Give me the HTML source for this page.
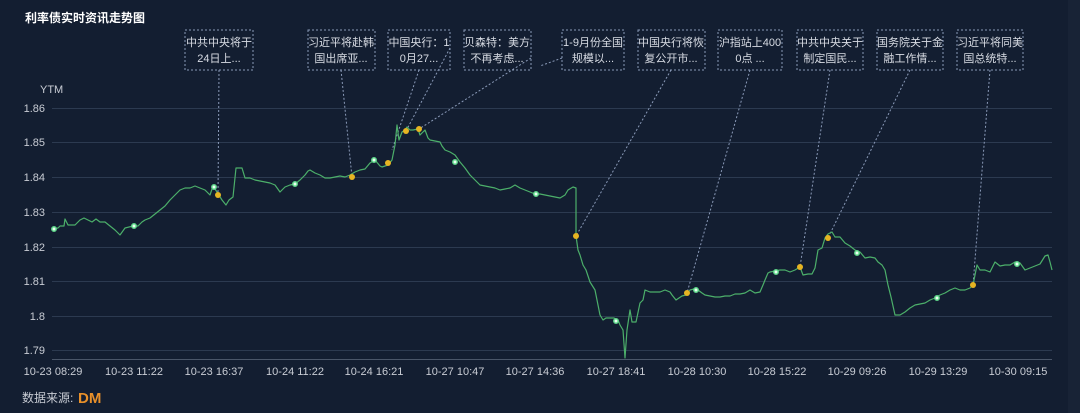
<!DOCTYPE html>
<html><head><meta charset="utf-8"><style>
html,body{margin:0;padding:0;background:#131e31;}
svg{display:block;font-family:"Liberation Sans","Noto Sans CJK SC",sans-serif;}
</style></head><body>
<svg width="1080" height="413" viewBox="0 0 1080 413">
<rect width="1080" height="413" fill="#131e31"/>
<rect x="1068" width="12" height="413" fill="#182336"/>
<text x="25" y="22" fill="#ffffff" font-size="12" font-weight="bold">利率债实时资讯走势图</text>
<text x="40" y="93" fill="#c8ccd4" font-size="11">YTM</text>
<g stroke="#2c3a50" stroke-width="1">
<line x1="52" y1="108.5" x2="1052" y2="108.5"/><line x1="52" y1="142.5" x2="1052" y2="142.5"/>
<line x1="52" y1="177.5" x2="1052" y2="177.5"/><line x1="52" y1="212.5" x2="1052" y2="212.5"/>
<line x1="52" y1="247.5" x2="1052" y2="247.5"/><line x1="52" y1="281.5" x2="1052" y2="281.5"/>
<line x1="52" y1="316.5" x2="1052" y2="316.5"/><line x1="52" y1="350.5" x2="1052" y2="350.5"/>
</g>
<line x1="52" y1="359.5" x2="1052" y2="359.5" stroke="#4a5669"/>
<g fill="#c8ccd4" font-size="11" text-anchor="end">
<text x="45" y="112">1.86</text><text x="45" y="146">1.85</text><text x="45" y="181">1.84</text><text x="45" y="216">1.83</text>
<text x="45" y="251">1.82</text><text x="45" y="285">1.81</text><text x="45" y="320">1.8</text><text x="45" y="354">1.79</text>
</g>
<g fill="#c8ccd4" font-size="11" text-anchor="middle">
<text x="53" y="375">10-23 08:29</text><text x="134" y="375">10-23 11:22</text><text x="214" y="375">10-23 16:37</text>
<text x="295" y="375">10-24 11:22</text><text x="374" y="375">10-24 16:21</text><text x="455" y="375">10-27 10:47</text>
<text x="535" y="375">10-27 14:36</text><text x="616" y="375">10-27 18:41</text><text x="697" y="375">10-28 10:30</text>
<text x="777" y="375">10-28 15:22</text><text x="857" y="375">10-29 09:26</text><text x="938" y="375">10-29 13:29</text>
<text x="1018" y="375">10-30 09:15</text>
</g>
<text x="22" y="402" fill="#c8ccd4" font-size="12">数据来源:</text>
<text x="78" y="403" fill="#e8902a" font-size="15" font-weight="bold">DM</text>
<g fill="none" stroke="#8a9ab8" stroke-dasharray="2,2" stroke-width="1">
<rect x="185" y="30" width="68" height="40"/><rect x="308" y="30" width="67" height="40"/>
<rect x="388" y="30" width="62" height="40"/><rect x="464" y="30" width="67" height="40"/>
<rect x="562" y="30" width="62" height="40"/><rect x="638" y="30" width="67" height="40"/>
<rect x="718" y="30" width="64" height="40"/><rect x="797" y="30" width="66" height="40"/>
<rect x="877" y="30" width="66" height="40"/><rect x="957" y="30" width="66" height="40"/>
<line x1="219" y1="70" x2="218" y2="195"/><line x1="341" y1="70" x2="352" y2="177"/>
<line x1="419" y1="70" x2="392" y2="150"/><line x1="450" y1="48" x2="406" y2="131"/>
<line x1="531" y1="58" x2="419" y2="129"/><line x1="562" y1="58" x2="540" y2="66"/>
<line x1="671" y1="70" x2="576" y2="236"/><line x1="750" y1="70" x2="687" y2="293"/>
<line x1="830" y1="70" x2="800" y2="267"/><line x1="910" y1="70" x2="828" y2="238"/>
<line x1="990" y1="70" x2="973" y2="285"/>
</g>
<g fill="#d8dce4" font-size="11" text-anchor="middle">
<text x="219" y="46">中共中央将于</text><text x="219" y="62">24日上...</text>
<text x="341" y="46">习近平将赴韩</text><text x="341" y="62">国出席亚...</text>
<text x="419" y="46">中国央行：1</text><text x="419" y="62">0月27...</text>
<text x="497" y="46">贝森特：美方</text><text x="497" y="62">不再考虑...</text>
<text x="593" y="46">1-9月份全国</text><text x="593" y="62">规模以...</text>
<text x="671" y="46">中国央行将恢</text><text x="671" y="62">复公开市...</text>
<text x="750" y="46">沪指站上400</text><text x="750" y="62">0点 ...</text>
<text x="830" y="46">中共中央关于</text><text x="830" y="62">制定国民...</text>
<text x="910" y="46">国务院关于金</text><text x="910" y="62">融工作情...</text>
<text x="990" y="46">习近平将同美</text><text x="990" y="62">国总统特...</text>
</g>
<polyline fill="none" stroke="#4caf6a" stroke-width="1.2" stroke-linejoin="round" points="52,229 58,228 60,226 64,226 65,219 68,225 75,225 80,220 84,218 88,220 92,222 96,219 100,222 105,222 110,226 115,230 120,235 125,228 133,226 138,226 142,222 145,220 150,218 155,214 160,210 165,206 170,200 175,195 180,190 185,188 190,188 195,186 200,188 205,190 210,195 213,186 217,192 222,200 226,205 229,200 233,197 236,168 242,168 245,178 250,178 255,180 260,181 265,182 270,183 275,185 280,192 285,187 290,185 295,184 300,180 305,175 308,171 310,170 315,173 320,175 325,178 330,178 335,177 340,176 345,177 350,175 355,172 360,170 365,169 370,163 375,160 380,166 382,167 388,165 392,160 395,145 397,125 399,140 402,132 405,130 407,127 410,130 413,130 418,129 420,135 423,132 425,130 428,138 430,140 435,141 440,142 442,146 445,150 450,152 455,155 460,162 465,168 470,175 475,180 480,185 485,186 490,187 495,188 500,190 505,189 510,188 515,185 520,188 525,190 530,192 535,194 540,194 545,195 550,196 555,197 560,198 565,195 568,190 573,187 576,188 576,236 578,250 580,255 583,265 586,270 590,282 595,290 597,300 600,315 603,320 606,318 610,318 614,318 618,320 620,325 623,330 625,358 627,330 630,310 632,322 636,322 640,303 643,300 645,290 650,292 655,292 660,292 665,290 670,292 672,295 676,300 682,296 686,295 690,290 694,289 698,290 702,293 705,295 710,296 715,297 720,297 725,296 730,296 735,294 740,294 745,293 750,290 755,293 760,292 763,285 765,280 768,273 770,272 775,271 780,270 785,270 790,272 795,270 800,267 803,275 808,274 812,274 815,268 818,250 822,248 825,238 828,234 832,232 835,237 840,237 845,243 850,246 855,250 860,252 865,258 870,257 875,258 878,262 882,265 885,270 888,285 891,297 895,315 900,315 905,312 910,308 915,305 920,304 925,303 930,300 935,298 940,295 945,293 950,290 955,288 960,290 965,290 970,288 973,285 977,265 980,270 985,270 990,272 995,262 1000,266 1005,265 1010,265 1015,262 1020,263 1025,270 1030,268 1035,266 1040,264 1045,256 1048,255 1050,262 1052,270"/>
<g fill="#e6b422">
<circle cx="218" cy="195" r="3"/><circle cx="352" cy="177" r="3"/><circle cx="388" cy="163" r="3"/>
<circle cx="406" cy="131" r="3"/><circle cx="419" cy="129" r="3"/><circle cx="576" cy="236" r="3"/>
<circle cx="687" cy="293" r="3"/><circle cx="800" cy="267" r="3"/><circle cx="828" cy="238" r="3"/>
<circle cx="973" cy="285" r="3"/>
</g>
<g fill="#e8fff0" stroke="#5fd68a" stroke-width="1.5">
<circle cx="54" cy="229" r="2.2"/><circle cx="134" cy="226" r="2.2"/><circle cx="214" cy="187" r="2.2"/>
<circle cx="295" cy="184" r="2.2"/><circle cx="374" cy="160" r="2.2"/><circle cx="455" cy="162" r="2.2"/>
<circle cx="536" cy="194" r="2.2"/><circle cx="616" cy="321" r="2.2"/><circle cx="696" cy="290" r="2.2"/>
<circle cx="776" cy="272" r="2.2"/><circle cx="857" cy="253" r="2.2"/><circle cx="937" cy="298" r="2.2"/>
<circle cx="1017" cy="264" r="2.2"/>
</g>
</svg>
</body></html>
